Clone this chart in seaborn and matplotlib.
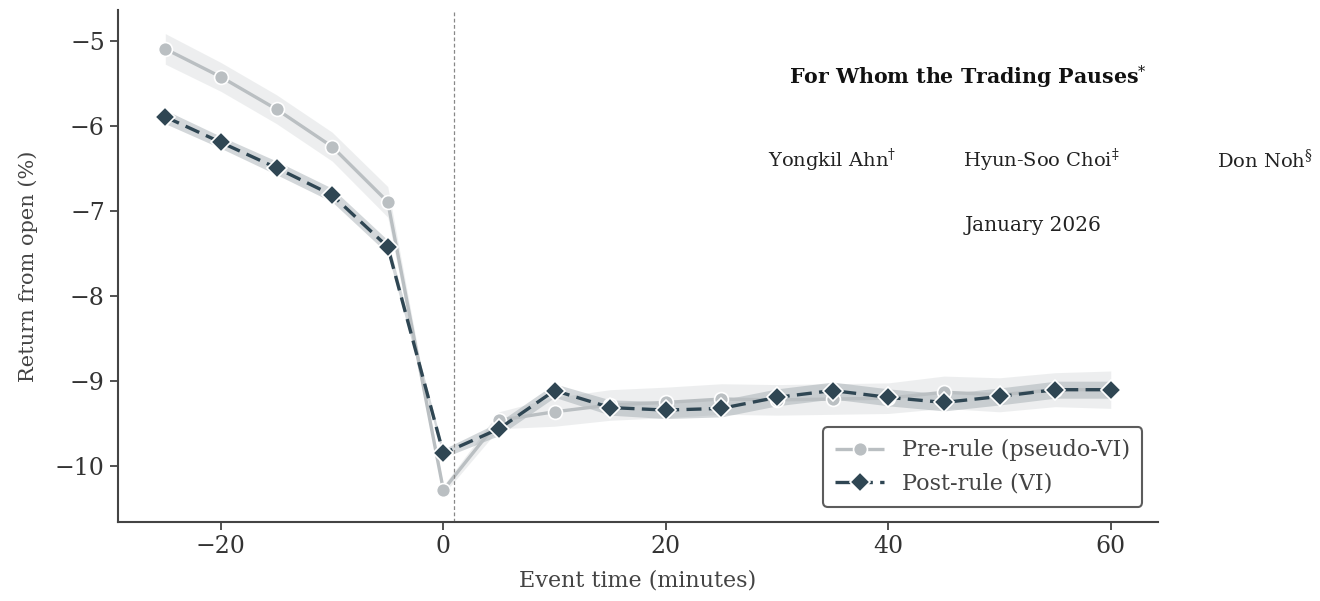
import numpy as np
import pandas as pd
import matplotlib
matplotlib.use("Agg")
import matplotlib.pyplot as plt
import seaborn as sns

# Event-time grid (minutes relative to the trading pause)
event_time = [-25, -20, -15, -10, -5, 0, 5, 10, 15, 20, 25, 30, 35, 40, 45, 50, 55, 60]

# Mean return from open (%)
pre_rule = [-5.09, -5.42, -5.80, -6.24, -6.89, -10.28, -9.46, -9.36, -9.28, -9.25,
            -9.21, -9.22, -9.21, -9.20, -9.13, -9.16, -9.10, -9.10]
post_rule = [-5.89, -6.19, -6.49, -6.81, -7.42, -9.85, -9.56, -9.11, -9.31, -9.34,
             -9.32, -9.19, -9.11, -9.19, -9.25, -9.18, -9.10, -9.10]

# Half-width of the shaded confidence bands
pre_ci = [0.18, 0.17, 0.17, 0.17, 0.18, 0.05, 0.10, 0.17, 0.18, 0.18,
          0.18, 0.18, 0.18, 0.18, 0.19, 0.20, 0.20, 0.22]
post_ci = [0.08, 0.07, 0.08, 0.08, 0.08, 0.05, 0.08, 0.08, 0.09, 0.10,
           0.10, 0.10, 0.10, 0.10, 0.10, 0.10, 0.10, 0.10]

labels = ["Pre-rule (pseudo-VI)", "Post-rule (VI)"]

df = pd.DataFrame({
    "Event time (minutes)": event_time * 2,
    "Return from open (%)": pre_rule + post_rule,
    "ci": pre_ci + post_ci,
    "Group": [labels[0]] * len(event_time) + [labels[1]] * len(event_time),
})

sns.set_theme(style="ticks")
plt.rcParams["font.family"] = ["DejaVu Serif"]
plt.rcParams["mathtext.fontset"] = "dejavuserif"

pre_color = "#babfc2"
post_color = "#2f4653"

fig = plt.figure(figsize=(13.2, 6.01), dpi=100)
ax = fig.add_axes([0.0894, 0.131, 0.7879, 0.852])

# confidence bands
for grp, band_color, alpha in [(labels[0], "#cdd1d3", 0.35), (labels[1], "#8d989e", 0.38)]:
    sub = df[df["Group"] == grp]
    ax.fill_between(sub["Event time (minutes)"],
                    sub["Return from open (%)"] - sub["ci"],
                    sub["Return from open (%)"] + sub["ci"],
                    color=band_color, alpha=alpha, linewidth=0)

sns.lineplot(data=df, x="Event time (minutes)", y="Return from open (%)",
             hue="Group", style="Group", markers=["o", "D"], dashes=[(1, 0), (4.5, 2.2)],
             palette=[pre_color, post_color], hue_order=labels, style_order=labels,
             linewidth=2.4, markersize=10, markeredgecolor="white", markeredgewidth=1.2,
             errorbar=None, ax=ax)

ax.axvline(1, color="#888888", linestyle=(0, (3, 2)), linewidth=0.9)

ax.set_xlim(-29.25, 64.25)
ax.set_ylim(-10.66, -4.635)
ax.set_xticks([-20, 0, 20, 40, 60])
ax.set_yticks([-10, -9, -8, -7, -6, -5])
ax.tick_params(labelsize=17, colors="#333333", length=6, width=1.2)
ax.set_xlabel("Event time (minutes)", fontsize=16, color="#444444", labelpad=8)
ax.set_ylabel("Return from open (%)", fontsize=15, color="#444444", labelpad=12)
for side in ["left", "bottom"]:
    ax.spines[side].set_color("#444444")
    ax.spines[side].set_linewidth(1.5)
sns.despine(ax=ax)

leg = ax.legend(loc="lower right", fontsize=16, frameon=True, fancybox=True,
                handlelength=2.2, borderpad=0.55, labelspacing=0.5,
                borderaxespad=0.7)
leg.get_frame().set_edgecolor("#333333")
leg.get_frame().set_linewidth(1.5)
for t in leg.get_texts():
    t.set_color("#444444")

# paper title block
fig.text(0.733, 0.872, r"For Whom the Trading Pauses$^{*}$", fontsize=14.8,
         fontweight="bold", ha="center", va="center", color="#111111")
fig.text(0.630, 0.733, r"Yongkil Ahn$^{\dagger}$", fontsize=14, ha="center", va="center", color="#222222")
fig.text(0.789, 0.733, r"Hyun-Soo Choi$^{\ddagger}$", fontsize=14, ha="center", va="center", color="#222222")
fig.text(0.958, 0.733, r"Don Noh$^{\S}$", fontsize=14, ha="center", va="center", color="#222222")
fig.text(0.783, 0.624, "January 2026", fontsize=14.5, ha="center", va="center", color="#222222")

fig.savefig("out.png", dpi=100)
